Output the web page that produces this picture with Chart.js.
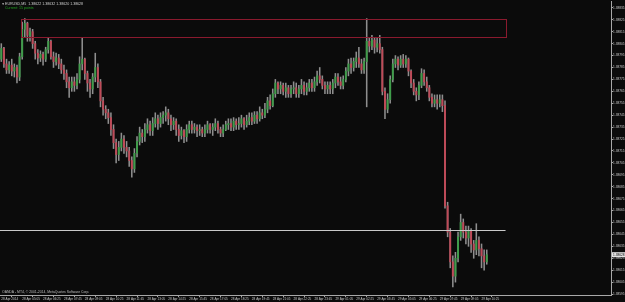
<!DOCTYPE html>
<html><head><meta charset="utf-8">
<script src="https://cdn.jsdelivr.net/npm/chart.js@4.4.1/dist/chart.umd.min.js"></script>
<style>html,body{margin:0;padding:0;background:#0b0b0b;overflow:hidden}canvas{display:block}</style>
</head><body>
<canvas id="c" width="625" height="302"></canvas>
<script>
const symbolText = "EURUSD,M5";
const infoText = "Current: 15 points";
const footerText = "OANDA - MT4, \u00A9 2001-2014, MetaQuotes Software Corp.";
const timeTickLabels = ["28 Apr 2014","28 Apr 05:05","28 Apr 06:25","28 Apr 07:45","28 Apr 09:05","28 Apr 10:25","28 Apr 11:45","28 Apr 13:05","28 Apr 14:25","28 Apr 15:45","28 Apr 17:05","28 Apr 18:25","28 Apr 19:45","28 Apr 21:05","28 Apr 22:25","28 Apr 23:45","29 Apr 01:05","29 Apr 02:25","29 Apr 03:45","29 Apr 05:05","29 Apr 06:25","29 Apr 07:45","29 Apr 09:05","29 Apr 10:25"];
const barsPerTimeTick = 8;
const priceTickLabels = ["1.38835","1.38825","1.38815","1.38805","1.38795","1.38785","1.38775","1.38765","1.38755","1.38745","1.38735","1.38725","1.38715","1.38705","1.38695","1.38685","1.38675","1.38665","1.38655","1.38645","1.38635","1.38625","1.38615","1.38605","1.38595"];

const opens = [1.38792,1.38801,1.38788,1.38783,1.38787,1.38782,1.38785,1.38777,1.38794,1.38817,
1.38822,1.38812,1.38815,1.38805,1.38797,1.38793,1.38796,1.38792,1.38800,1.38807,
1.38794,1.38790,1.38793,1.38788,1.38783,1.38780,1.38773,1.38768,1.38773,1.38770,
1.38775,1.38788,1.38792,1.38780,1.38772,1.38767,1.38777,1.38785,1.38773,1.38757,
1.38750,1.38747,1.38743,1.38733,1.38722,1.38712,1.38718,1.38725,1.38718,1.38715,
1.38707,1.38700,1.38713,1.38723,1.38730,1.38727,1.38733,1.38737,1.38732,1.38738,
1.38742,1.38738,1.38743,1.38745,1.38747,1.38742,1.38737,1.38740,1.38733,1.38728,
1.38732,1.38727,1.38733,1.38737,1.38733,1.38735,1.38732,1.38733,1.38730,1.38733,
1.38737,1.38733,1.38735,1.38738,1.38733,1.38730,1.38733,1.38737,1.38738,1.38735,
1.38740,1.38737,1.38738,1.38742,1.38737,1.38740,1.38743,1.38740,1.38745,1.38742,
1.38747,1.38745,1.38750,1.38757,1.38753,1.38763,1.38772,1.38767,1.38770,1.38765,
1.38768,1.38763,1.38767,1.38768,1.38763,1.38767,1.38770,1.38765,1.38768,1.38772,
1.38768,1.38773,1.38778,1.38775,1.38770,1.38767,1.38770,1.38767,1.38772,1.38777,
1.38773,1.38770,1.38775,1.38782,1.38788,1.38785,1.38790,1.38793,1.38788,1.38783,
1.38790,1.38807,1.38803,1.38808,1.38802,1.38805,1.38800,1.38765,1.38750,1.38758,
1.38775,1.38788,1.38792,1.38787,1.38792,1.38788,1.38792,1.38782,1.38772,1.38765,
1.38762,1.38770,1.38780,1.38773,1.38768,1.38760,1.38755,1.38758,1.38755,1.38758,
1.38753,1.38669,1.38647,1.38622,1.38610,1.38625,1.38643,1.38655,1.38647,1.38642,
1.38648,1.38637,1.38632,1.38640,1.38633,1.38627,1.38622];
const highs = [1.38805,1.38802,1.38792,1.38790,1.38792,1.38788,1.38787,1.38797,1.38823,1.38826,
1.38823,1.38818,1.38817,1.38807,1.38800,1.38799,1.38798,1.38802,1.38810,1.38808,
1.38798,1.38797,1.38796,1.38792,1.38787,1.38783,1.38777,1.38777,1.38777,1.38780,
1.38794,1.38810,1.38793,1.38782,1.38775,1.38780,1.38797,1.38788,1.38775,1.38760,
1.38753,1.38750,1.38747,1.38737,1.38725,1.38723,1.38730,1.38728,1.38723,1.38718,
1.38710,1.38717,1.38727,1.38735,1.38733,1.38738,1.38742,1.38740,1.38743,1.38747,
1.38745,1.38747,1.38748,1.38752,1.38750,1.38745,1.38743,1.38742,1.38737,1.38735,
1.38733,1.38737,1.38740,1.38740,1.38738,1.38737,1.38737,1.38735,1.38737,1.38740,
1.38738,1.38738,1.38742,1.38740,1.38735,1.38737,1.38740,1.38742,1.38742,1.38743,
1.38742,1.38743,1.38745,1.38743,1.38745,1.38747,1.38747,1.38748,1.38748,1.38752,
1.38750,1.38755,1.38760,1.38762,1.38767,1.38775,1.38773,1.38773,1.38772,1.38772,
1.38770,1.38770,1.38773,1.38772,1.38770,1.38775,1.38773,1.38772,1.38775,1.38775,
1.38777,1.38782,1.38785,1.38778,1.38773,1.38773,1.38773,1.38775,1.38780,1.38780,
1.38777,1.38778,1.38785,1.38792,1.38793,1.38793,1.38798,1.38802,1.38792,1.38793,
1.38826,1.38810,1.38812,1.38810,1.38810,1.38812,1.38802,1.38768,1.38763,1.38778,
1.38792,1.38795,1.38794,1.38795,1.38796,1.38795,1.38793,1.38783,1.38775,1.38768,
1.38773,1.38784,1.38783,1.38777,1.38770,1.38763,1.38762,1.38762,1.38762,1.38762,
1.38757,1.38672,1.38650,1.38627,1.38630,1.38647,1.38662,1.38658,1.38652,1.38652,
1.38650,1.38640,1.38654,1.38643,1.38637,1.38632,1.38632];
const lows = [1.38790,1.38785,1.38780,1.38780,1.38778,1.38777,1.38772,1.38774,1.38792,1.38810,
1.38807,1.38807,1.38801,1.38792,1.38788,1.38790,1.38787,1.38790,1.38797,1.38792,
1.38785,1.38787,1.38784,1.38780,1.38775,1.38768,1.38760,1.38765,1.38765,1.38767,
1.38772,1.38783,1.38775,1.38765,1.38760,1.38763,1.38773,1.38768,1.38752,1.38745,
1.38742,1.38738,1.38728,1.38717,1.38705,1.38707,1.38715,1.38713,1.38710,1.38702,
1.38693,1.38697,1.38710,1.38720,1.38722,1.38723,1.38730,1.38728,1.38728,1.38735,
1.38733,1.38735,1.38738,1.38740,1.38737,1.38732,1.38733,1.38728,1.38723,1.38725,
1.38722,1.38723,1.38730,1.38730,1.38730,1.38727,1.38728,1.38727,1.38727,1.38730,
1.38730,1.38728,1.38732,1.38730,1.38727,1.38727,1.38732,1.38733,1.38732,1.38732,
1.38733,1.38733,1.38735,1.38733,1.38735,1.38737,1.38737,1.38738,1.38738,1.38740,
1.38742,1.38743,1.38747,1.38750,1.38752,1.38760,1.38763,1.38763,1.38762,1.38760,
1.38760,1.38760,1.38763,1.38760,1.38760,1.38763,1.38762,1.38762,1.38765,1.38765,
1.38765,1.38770,1.38772,1.38767,1.38763,1.38763,1.38763,1.38763,1.38768,1.38770,
1.38767,1.38767,1.38773,1.38778,1.38780,1.38782,1.38785,1.38785,1.38780,1.38780,
1.38752,1.38798,1.38800,1.38797,1.38798,1.38797,1.38762,1.38742,1.38747,1.38755,
1.38773,1.38785,1.38783,1.38785,1.38785,1.38785,1.38778,1.38768,1.38762,1.38757,
1.38758,1.38768,1.38770,1.38765,1.38757,1.38752,1.38752,1.38750,1.38752,1.38748,
1.38667,1.38643,1.38617,1.38601,1.38605,1.38622,1.38640,1.38642,1.38637,1.38635,
1.38630,1.38625,1.38628,1.38627,1.38617,1.38615,1.38620];
const closes = [1.38801,1.38788,1.38783,1.38787,1.38782,1.38785,1.38777,1.38794,1.38817,1.38822,
1.38812,1.38815,1.38805,1.38797,1.38793,1.38796,1.38792,1.38800,1.38807,1.38794,
1.38790,1.38793,1.38788,1.38783,1.38780,1.38773,1.38768,1.38773,1.38770,1.38775,
1.38788,1.38792,1.38780,1.38772,1.38767,1.38777,1.38785,1.38773,1.38757,1.38750,
1.38747,1.38743,1.38733,1.38722,1.38712,1.38718,1.38725,1.38718,1.38715,1.38707,
1.38700,1.38713,1.38723,1.38730,1.38727,1.38733,1.38737,1.38732,1.38738,1.38742,
1.38738,1.38743,1.38745,1.38747,1.38742,1.38737,1.38740,1.38733,1.38728,1.38732,
1.38727,1.38733,1.38737,1.38733,1.38735,1.38732,1.38733,1.38730,1.38733,1.38737,
1.38733,1.38735,1.38738,1.38733,1.38730,1.38733,1.38737,1.38738,1.38735,1.38740,
1.38737,1.38738,1.38742,1.38737,1.38740,1.38743,1.38740,1.38745,1.38742,1.38747,
1.38745,1.38750,1.38757,1.38753,1.38763,1.38772,1.38767,1.38770,1.38765,1.38768,
1.38763,1.38767,1.38768,1.38763,1.38767,1.38770,1.38765,1.38768,1.38772,1.38768,
1.38773,1.38778,1.38775,1.38770,1.38767,1.38770,1.38767,1.38772,1.38777,1.38773,
1.38770,1.38775,1.38782,1.38788,1.38785,1.38790,1.38793,1.38788,1.38783,1.38790,
1.38807,1.38803,1.38808,1.38802,1.38805,1.38800,1.38765,1.38750,1.38758,1.38775,
1.38788,1.38792,1.38787,1.38792,1.38788,1.38792,1.38782,1.38772,1.38765,1.38762,
1.38770,1.38780,1.38773,1.38768,1.38760,1.38755,1.38758,1.38755,1.38758,1.38753,
1.38669,1.38647,1.38622,1.38610,1.38625,1.38643,1.38655,1.38647,1.38642,1.38648,
1.38637,1.38632,1.38640,1.38633,1.38627,1.38622,1.38628];

// drawn objects (in data units)
const boxFromBar = 7.4, boxToBar = 193.2, boxHigh = 1.38826, boxLow = 1.38811;
const levelPrice = 1.38649, levelToBar = 193.2;
const xMin = -0.5, xMax = 233.6;
const yMin = 1.385942, yMax = 1.38840;

const UP = '#3f9d4a', DOWN = '#bf4a58', WICK = '#8e8e8e', AXIS = '#a8a8a8', TXT = '#c8c8c8', BG = '#0b0b0b';
const FONT = '"Liberation Sans", Arial, sans-serif';

const wickData = lows.map((l, i) => ({x: i, y: [l, highs[i]]}));
const bodyData = opens.map((o, i) => ({x: i, y: [o, closes[i]]}));
const bodyColors = opens.map((o, i) => closes[i] >= o ? UP : DOWN);

const overlay = {
  id: 'overlay',
  beforeDraw(chart) {
    const c = chart.ctx;
    c.save(); c.fillStyle = BG; c.fillRect(0, 0, chart.width, chart.height); c.restore();
  },
  afterDatasetsDraw(chart) {
    const c = chart.ctx, xs = chart.scales.x, ys = chart.scales.y;
    c.save();
    const x1 = xs.getPixelForValue(boxFromBar), x2 = xs.getPixelForValue(boxToBar);
    const y1 = ys.getPixelForValue(boxHigh), y2 = ys.getPixelForValue(boxLow);
    c.strokeStyle = '#8a1a2e'; c.lineWidth = 1;
    c.strokeRect(Math.round(x1) + 0.5, Math.round(y1) + 0.5, Math.round(x2 - x1), Math.round(y2 - y1));
    const yl = Math.round(ys.getPixelForValue(levelPrice)) + 0.5;
    c.strokeStyle = '#c9c9c9';
    c.beginPath(); c.moveTo(chart.chartArea.left, yl); c.lineTo(xs.getPixelForValue(levelToBar), yl); c.stroke();
    c.restore();
  },
  afterDraw(chart) {
    const c = chart.ctx, ys = chart.scales.y, n = closes.length - 1;
    c.save();
    c.textBaseline = 'middle';
    c.fillStyle = '#d0d0d0';
    c.font = '3.2px ' + FONT;
    c.fillText('\u25BC', 1.5, 4);
    c.font = '3.6px ' + FONT;
    c.fillText(symbolText + '  ' + [opens[n], highs[n], lows[n], closes[n]].map(v => v.toFixed(5)).join(' '), 5, 4);
    c.fillStyle = '#22a422';
    c.fillText(infoText, 5, 8.3);
    c.fillStyle = '#bdbdbd';
    c.font = '3.4px ' + FONT;
    c.fillText(footerText, 2, 292.5);
    const yp = ys.getPixelForValue(closes[n]);
    c.fillStyle = '#e4e4e4';
    c.fillRect(612, yp - 2.5, 13, 5);
    c.fillStyle = '#000';
    c.font = '3.2px ' + FONT;
    c.fillText(closes[n].toFixed(5), 613, yp + 0.2);
    c.restore();
  }
};

new Chart(document.getElementById('c'), {
  type: 'bar',
  data: {
    datasets: [
      {data: bodyData, backgroundColor: bodyColors, barThickness: 1.3, grouped: false, order: 1, borderWidth: 0},
      {data: wickData, backgroundColor: WICK, barThickness: 0.9, grouped: false, order: 2, borderWidth: 0}
    ]
  },
  options: {
    responsive: false, animation: false, devicePixelRatio: 1,
    layout: {padding: 0},
    plugins: {legend: {display: false}, tooltip: {enabled: false}},
    scales: {
      x: {
        type: 'linear', min: xMin, max: xMax, offset: false,
        grid: {display: true, drawOnChartArea: false, drawTicks: true, tickLength: 2, color: AXIS},
        border: {display: true, color: AXIS, width: 1},
        ticks: {autoSkip: false, maxRotation: 0, minRotation: 0, align: 'start', color: TXT, padding: 0,
          font: {family: FONT, size: 3.1}, callback: (v, i) => timeTickLabels[i]},
        afterBuildTicks: s => { s.ticks = timeTickLabels.map((_, k) => ({value: k * barsPerTimeTick})); },
        afterFit: s => { s.height = 7; }
      },
      y: {
        type: 'linear', position: 'right', min: yMin, max: yMax,
        grid: {display: true, drawOnChartArea: false, drawTicks: true, tickLength: 2, color: AXIS},
        border: {display: true, color: AXIS, width: 1},
        ticks: {color: TXT, padding: 0, font: {family: FONT, size: 3.2}, callback: (v, i) => priceTickLabels[i]},
        afterBuildTicks: s => { s.ticks = priceTickLabels.map(t => ({value: parseFloat(t)})); },
        afterFit: s => { s.width = 14; }
      }
    }
  },
  plugins: [overlay]
});
</script>
</body></html>
